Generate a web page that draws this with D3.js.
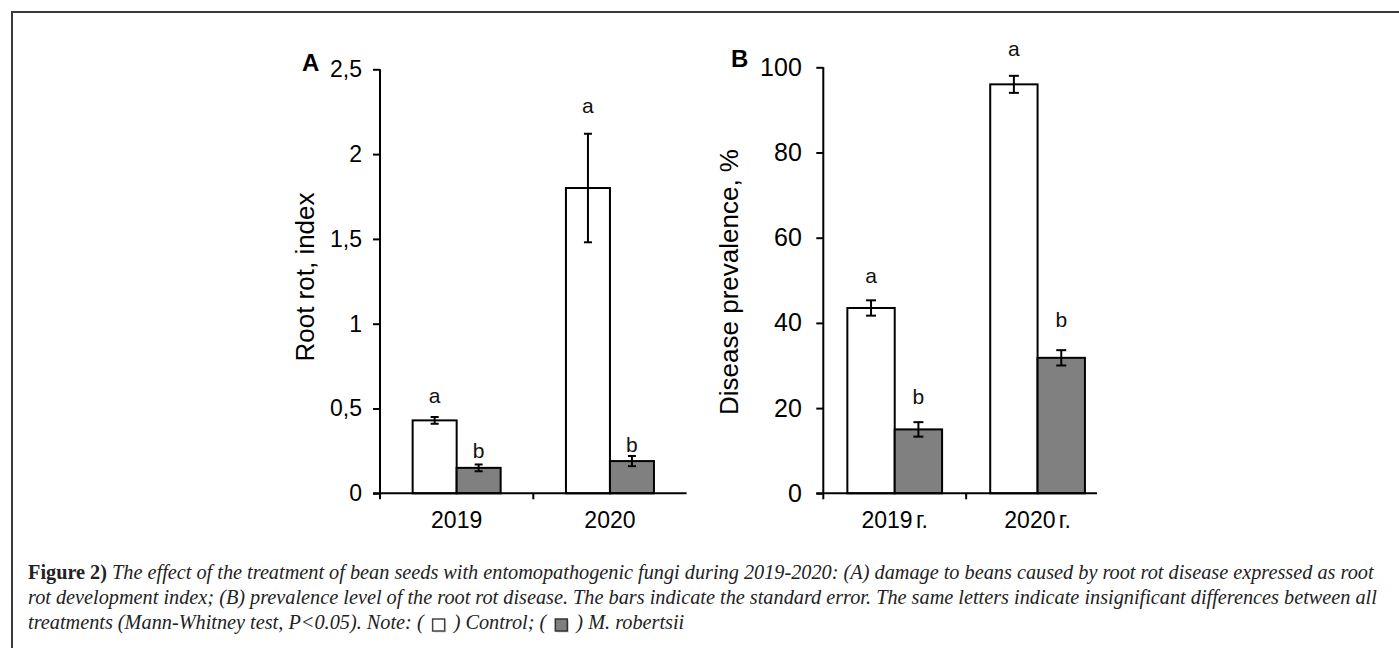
<!DOCTYPE html>
<html><head><meta charset="utf-8">
<script src="https://cdn.jsdelivr.net/npm/d3@7"></script>
<style>body{margin:0;background:#fff}svg{display:block}</style>
</head><body>
<svg id="chart" width="1399" height="648"></svg>
<script>
// ---------- data ----------
const seriesNames = ["Control", "M. robertsii"];
const yearsA = ["2019", "2020"];
const yearsB = ["2019 г.", "2020 г."];
// Panel A: root rot index
const controlA = [0.43, 1.80];
const controlAErr = [0.02, 0.32];
const robertsiiA = [0.15, 0.19];
const robertsiiAErr = [0.02, 0.03];
const lettersControlA = ["a", "a"];
const lettersRobertsiiA = ["b", "b"];
const letterLevelControlA = [0.53, 2.24];
const letterLevelRobertsiiA = [0.21, 0.245];
const ticksA = [0, 0.5, 1, 1.5, 2, 2.5];
const tickLabelsA = ["0", "0,5", "1", "1,5", "2", "2,5"];
// Panel B: disease prevalence, %
const controlB = [43.5, 96.0];
const controlBErr = [1.8, 2.0];
const robertsiiB = [15.0, 31.8];
const robertsiiBErr = [1.7, 1.8];
const lettersControlB = ["a", "a"];
const lettersRobertsiiB = ["b", "b"];
const letterLevelControlB = [49.3, 102.7];
const letterLevelRobertsiiB = [20.9, 39.1];
const ticksB = [0, 20, 40, 60, 80, 100];
const tickLabelsB = ["0", "20", "40", "60", "80", "100"];

const captionLines = [
  [{t:"Figure 2)", b:true}, {t:" The effect of the treatment of bean seeds with entomopathogenic fungi during 2019-2020: (A) damage to beans caused by root rot disease expressed as root"}],
  [{t:"rot development index; (B) prevalence level of the root rot disease. The bars indicate the standard error. The same letters indicate insignificant differences between all"}]
];
const captionLast = ["treatments (Mann-Whitney test, P<0.05). Note: (", ") Control; (", ") M. robertsii"];

// ---------- drawing ----------
const svg = d3.select("#chart");
svg.append("rect").attr("width",1399).attr("height",648).attr("fill","#fff");
// frame (top & left visible)
svg.append("path").attr("d","M12,700 L12,12 L1500,12").attr("fill","none").attr("stroke","#3a3a3a").attr("stroke-width",2);

const FONT = "Liberation Sans, Arial, sans-serif";
const fills = ["#ffffff", "#808080"];

function panel(cfg){
  const g = svg.append("g");
  const x = d3.scaleBand().domain(cfg.cats).range([cfg.x0, cfg.x1]).paddingInner(0).paddingOuter(0);
  const xs = d3.scaleBand().domain(seriesNames).range([0, x.bandwidth()]).paddingInner(0).paddingOuter(cfg.po);
  const y = d3.scaleLinear().domain([0, cfg.max]).range([cfg.y0, cfg.yTop]);

  const series = [
    {name: seriesNames[0], v: cfg.control, e: cfg.controlErr, l: cfg.lc, lv: cfg.lcv},
    {name: seriesNames[1], v: cfg.rob, e: cfg.robErr, l: cfg.lr, lv: cfg.lrv}
  ];
  series.forEach((s, si) => {
    cfg.cats.forEach((c, i) => {
      const bx = x(c) + xs(s.name), bw = xs.bandwidth();
      g.append("rect").attr("x", bx).attr("y", y(s.v[i])).attr("width", bw)
        .attr("height", y(0) - y(s.v[i])).attr("fill", fills[si])
        .attr("stroke", "#000").attr("stroke-width", 2);
      const cx = bx + bw/2;
      const hi = y(s.v[i] + s.e[i]), lo = y(s.v[i] - s.e[i]);
      g.append("line").attr("x1",cx).attr("x2",cx).attr("y1",hi).attr("y2",lo).attr("stroke","#000").attr("stroke-width",2);
      [hi, lo].forEach(yy => g.append("line").attr("x1",cx-cfg.cap).attr("x2",cx+cfg.cap).attr("y1",yy).attr("y2",yy).attr("stroke","#000").attr("stroke-width",2));
      g.append("text").attr("x", cx).attr("y", y(s.lv[i])).attr("text-anchor","middle")
        .attr("font-family", FONT).attr("font-size", 21).attr("fill","#111").text(s.l[i]);
    });
  });

  // y axis
  const yAxis = d3.axisLeft(y).tickValues(cfg.ticks).tickSize(7).tickPadding(cfg.tickPad)
    .tickFormat((d,i) => cfg.tickLabels[i]);
  const ya = g.append("g").attr("transform", `translate(${cfg.x0},0)`).call(yAxis);
  ya.select(".domain").attr("stroke","#000").attr("stroke-width",2).attr("d", `M0,${cfg.y0}V${cfg.yTop}`);
  ya.selectAll(".tick line").attr("stroke","#000").attr("stroke-width",2);
  ya.selectAll(".tick text").attr("font-family", FONT).attr("font-size", cfg.tickFont).attr("fill","#000");

  // x axis (ticks between categories)
  const boundaries = cfg.cats.map(c => x(c));
  g.append("line").attr("x1", cfg.x0 - 7).attr("x2", cfg.xAxisEnd).attr("y1", cfg.y0).attr("y2", cfg.y0).attr("stroke","#000").attr("stroke-width",2);
  boundaries.forEach(bx => g.append("line").attr("x1",bx).attr("x2",bx).attr("y1",cfg.y0).attr("y2",cfg.y0+6).attr("stroke","#000").attr("stroke-width",2));
  cfg.cats.forEach(c => {
    g.append("text").attr("x", x(c) + x.bandwidth()/2).attr("y", cfg.y0 + 35).attr("text-anchor","middle")
      .attr("font-family", FONT).attr("font-size", 23).attr("fill","#000")
      .attr("word-spacing", cfg.wordSpacing || 0).text(c);
  });

  // y title
  g.append("text").attr("transform", `translate(${cfg.titleX},${cfg.titleY}) rotate(-90)`)
    .attr("text-anchor","middle").attr("font-family", FONT).attr("font-size", 26).attr("fill","#000").text(cfg.title);
  // panel letter
  g.append("text").attr("x", cfg.letterX).attr("y", cfg.letterY).attr("font-family", FONT).attr("font-weight","bold")
    .attr("font-size", 24).attr("fill","#000").text(cfg.panelLetter);
}

panel({cats: yearsA, x0: 380, x1: 686.6, xAxisEnd: 686.6, po: 0.742, y0: 493.3, yTop: 69.3, max: 2.5,
  control: controlA, controlErr: controlAErr, rob: robertsiiA, robErr: robertsiiAErr,
  lc: lettersControlA, lr: lettersRobertsiiA, lcv: letterLevelControlA, lrv: letterLevelRobertsiiA,
  ticks: ticksA, tickLabels: tickLabelsA, tickPad: 11, tickFont: 23, cap: 4,
  title: "Root rot, index", titleX: 314, titleY: 277, panelLetter: "A", letterX: 302, letterY: 71});

panel({cats: yearsB, x0: 823.3, x1: 1109, xAxisEnd: 1097, po: 0.508, y0: 493.3, yTop: 67.3, max: 100,
  control: controlB, controlErr: controlBErr, rob: robertsiiB, robErr: robertsiiBErr,
  lc: lettersControlB, lr: lettersRobertsiiB, lcv: letterLevelControlB, lrv: letterLevelRobertsiiB,
  ticks: ticksB, tickLabels: tickLabelsB, tickPad: 14.5, tickFont: 25, cap: 5, wordSpacing: -3,
  title: "Disease prevalence, %", titleX: 738, titleY: 282, panelLetter: "B", letterX: 731, letterY: 67});

// ---------- caption ----------
const CAP_FONT = "Liberation Serif, 'DejaVu Serif', serif";
const capX = 28, capY = [579, 604, 629];
let fs = 17;
const cap = svg.append("g").attr("fill","#222").attr("font-family", CAP_FONT);
const lineEls = captionLines.map((parts, li) => {
  const t = cap.append("text").attr("x", capX).attr("y", capY[li]).attr("font-size", fs);
  parts.forEach(p => t.append("tspan").attr("font-style", p.b ? "normal" : "italic").attr("font-weight", p.b ? "bold" : "normal").text(p.t));
  return t;
});
// scale font so first line spans to the reference width
const w1 = lineEls[0].node().getComputedTextLength();
fs = fs * (1375 - capX) / w1;
lineEls.forEach(t => t.attr("font-size", fs));
// last line with legend squares
let cx = capX;
const sq = 12;
captionLast.forEach((txt, i) => {
  const t = cap.append("text").attr("x", cx).attr("y", capY[2]).attr("font-size", fs).attr("font-style","italic").text(txt);
  cx += t.node().getComputedTextLength();
  if (i < 2) {
    cx += 9;
    cap.append("rect").attr("x", cx + 1.5).attr("y", capY[2] - 10 + 1.5).attr("width", sq).attr("height", sq).attr("fill", "#bbb").attr("opacity",0.6);
    cap.append("rect").attr("x", cx).attr("y", capY[2] - 10).attr("width", sq).attr("height", sq)
      .attr("fill", i === 0 ? "#fff" : "#7f7f7f").attr("stroke", i === 0 ? "#444" : "#333").attr("stroke-width", 1.5);
    cx += sq + 9;
  }
});
</script>
</body></html>
